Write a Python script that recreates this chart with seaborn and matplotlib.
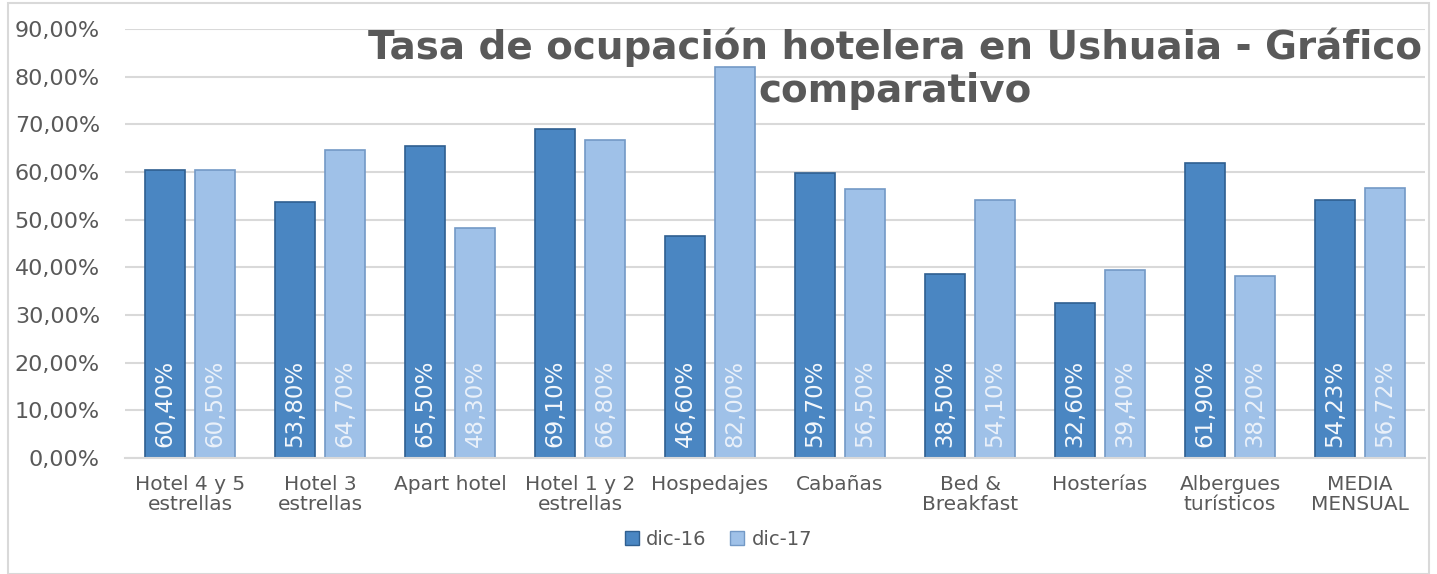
import pandas as pd
import matplotlib.pyplot as plt
import matplotlib.patches as mpatches
from matplotlib.ticker import FuncFormatter
import seaborn as sns

categories = ['Hotel 4 y 5\nestrellas', 'Hotel 3\nestrellas', 'Apart hotel',
              'Hotel 1 y 2\nestrellas', 'Hospedajes', 'Cabañas', 'Bed &\nBreakfast',
              'Hosterías', 'Albergues\nturísticos', 'MEDIA\nMENSUAL']
dic16 = [60.40, 53.80, 65.50, 69.10, 46.60, 59.70, 38.50, 32.60, 61.90, 54.23]
dic17 = [60.50, 64.70, 48.30, 66.80, 82.00, 56.50, 54.10, 39.40, 38.20, 56.72]
series = ['dic-16', 'dic-17']

df = pd.DataFrame({
    'categoria': categories * 2,
    'valor': [v / 100 for v in dic16 + dic17],
    'serie': [series[0]] * len(dic16) + [series[1]] * len(dic17),
})

sns.set_theme(style="white")
plt.rcParams['font.family'] = ['DejaVu Sans']

fig = plt.figure(figsize=(14.37, 5.74), dpi=100)
ax = fig.add_axes([125 / 1437, 1 - 458 / 574, 1300 / 1437, (458 - 29) / 574])

palette = {'dic-16': '#4a86c2', 'dic-17': '#9fc1e8'}
edges = {'dic-16': '#2f5f90', 'dic-17': '#7399c6'}
sns.barplot(data=df, x='categoria', y='valor', hue='serie', palette=palette,
            width=0.77, gap=0.2, saturation=1, ax=ax, legend=False)

label_colors = ['#f4f8fc', '#eaf1fa']
for cont, name, vals, lc in zip(ax.containers, series, [dic16, dic17], label_colors):
    for patch, v in zip(cont.patches, vals):
        patch.set_edgecolor(edges[name])
        patch.set_linewidth(1.2)
        ax.text(patch.get_x() + patch.get_width() / 2, 0.024,
                f"{v:.2f}%".replace('.', ','), rotation=90, ha='center', va='bottom',
                color=lc, fontsize=16.5)

ax.set_ylim(0, 0.9)
ax.set_yticks([i / 10 for i in range(10)])
ax.yaxis.set_major_formatter(FuncFormatter(lambda y, _: f"{y * 100:.2f}%".replace('.', ',')))
ax.grid(axis='y', color='#d9d9d9', linewidth=1.5)
ax.set_axisbelow(True)
for s in ['top', 'right', 'left']:
    ax.spines[s].set_visible(False)
ax.spines['bottom'].set_color('#d9d9d9')
ax.spines['bottom'].set_linewidth(1.5)
ax.set_xlim(-0.5, len(categories) - 0.5)
ax.tick_params(axis='y', labelsize=16, labelcolor='#595959', pad=18, length=0)
ax.tick_params(axis='x', labelsize=14.5, labelcolor='#595959', pad=12, length=0)
ax.set_xlabel('')
ax.set_ylabel('')
for lbl in ax.get_xticklabels():
    lbl.set_linespacing(1.1)

fig.text(0.623, 0.952, 'Tasa de ocupación hotelera en Ushuaia - Gráfico\ncomparativo',
         ha='center', va='top', fontsize=28, fontweight='bold', color='#595959',
         linespacing=1.15)

handles = [mpatches.Patch(facecolor=palette[s], edgecolor=edges[s], label=s) for s in series]
fig.legend(handles=handles, loc='center', bbox_to_anchor=(0.50, 0.06), ncol=2,
           frameon=False, fontsize=14, handlelength=0.7, handleheight=0.7,
           handletextpad=0.4, columnspacing=1.2, labelcolor='#595959')

fig.add_artist(mpatches.Rectangle((8 / 1437, 0.0), 1421 / 1437, 0.995, transform=fig.transFigure,
                                  fill=False, edgecolor='#d9d9d9', linewidth=1.5))

plt.savefig('out.png', dpi=100)
plt.close()
